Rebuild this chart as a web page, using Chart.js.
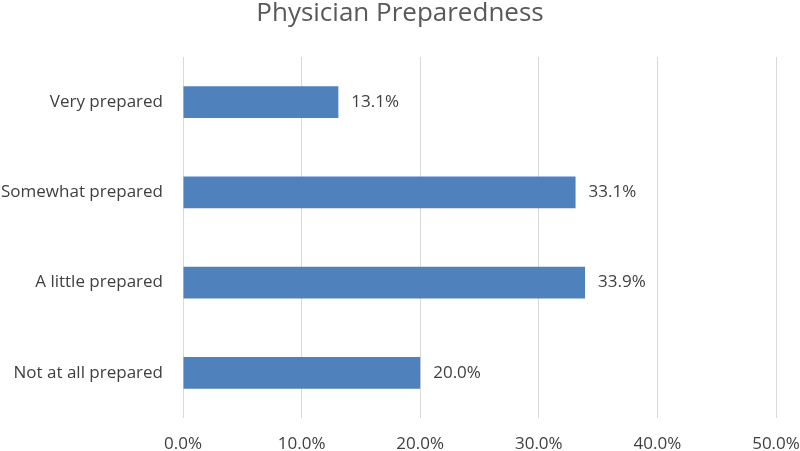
<!DOCTYPE html>
<html>
<head>
<meta charset="utf-8">
<script src="https://cdn.jsdelivr.net/npm/chart.js@4"></script>
<style>
    html, body { margin: 0; padding: 0; background: #fff; }
    #wrap { width: 800px; height: 451px; }
</style>
</head>
<body>
<div id="wrap"><canvas id="prepChart"></canvas></div>
<script>
// Survey data
const categories = ['Very prepared', 'Somewhat prepared', 'A little prepared', 'Not at all prepared'];
const percentValues = [13.1, 33.1, 33.9, 20.0];
const axisMax = 50;
const axisStep = 10;

const FONT = "'Open Sans', 'Noto Sans', sans-serif";

// Draw value labels right of each bar
const barLabels = {
    id: 'barLabels',
    afterDatasetsDraw(chart) {
        const ctx = chart.ctx;
        const meta = chart.getDatasetMeta(0);
        ctx.save();
        ctx.font = '17px ' + FONT;
        ctx.fillStyle = '#404040';
        ctx.textAlign = 'left';
        ctx.textBaseline = 'middle';
        meta.data.forEach((bar, i) => {
            ctx.fillText(percentValues[i].toFixed(1) + '%', bar.x + 13, bar.y);
        });
        ctx.restore();
    }
};

const ctx = document.getElementById('prepChart').getContext('2d');

new Chart(ctx, {
    type: 'bar',
    data: {
        labels: categories,
        datasets: [{
            data: percentValues,
            backgroundColor: '#4F81BD',
            barPercentage: 0.35,
            categoryPercentage: 1
        }]
    },
    options: {
        indexAxis: 'y',
        responsive: true,
        maintainAspectRatio: false,
        animation: false,
        layout: {
            padding: 0
        },
        scales: {
            x: {
                min: 0,
                max: axisMax,
                ticks: {
                    stepSize: axisStep,
                    padding: 16,
                    color: '#404040',
                    font: { family: FONT, size: 17 },
                    callback: v => v.toFixed(1) + '%'
                },
                grid: { color: '#D9D9D9', lineWidth: 1, drawTicks: false },
                border: { display: false },
                afterFit: s => {
                    s.height = 33;
                    s.paddingLeft = 0;
                    s.paddingRight = 24;
                }
            },
            y: {
                ticks: {
                    padding: 20,
                    color: '#404040',
                    font: { family: FONT, size: 17 }
                },
                grid: { display: false, drawTicks: false },
                border: { display: false },
                afterFit: s => { s.width = 183; }
            }
        },
        plugins: {
            legend: { display: false },
            tooltip: { enabled: false },
            title: {
                display: true,
                text: 'Physician Preparedness',
                color: '#595959',
                font: { family: FONT, size: 26, weight: 'normal', lineHeight: 1 },
                padding: { top: 1, bottom: 30 }
            }
        }
    },
    plugins: [barLabels]
});
</script>
</body>
</html>
